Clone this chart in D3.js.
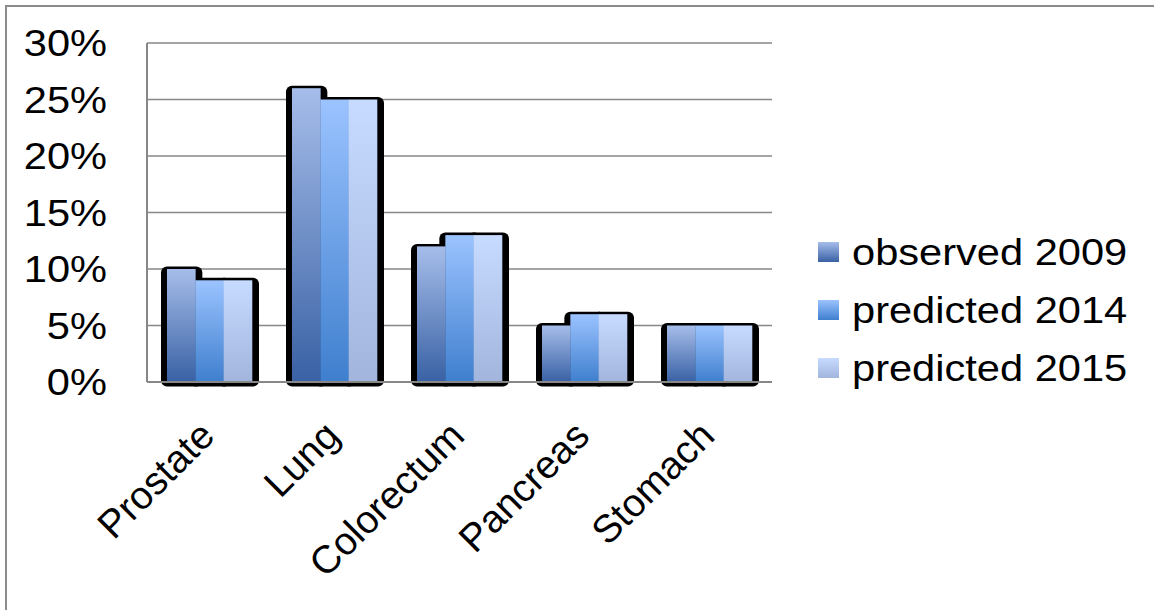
<!DOCTYPE html>
<html>
<head>
<meta charset="utf-8">
<script src="https://cdn.jsdelivr.net/npm/d3@7"></script>
<style>
  html, body { margin: 0; padding: 0; background: #fff; }
  svg { display: block; }
  text { font-family: "Liberation Sans", Arial, sans-serif; fill: #000; }
</style>
</head>
<body>
<svg id="chart" width="1154" height="610"></svg>
<script>
const categories = ["Prostate", "Lung", "Colorectum", "Pancreas", "Stomach"];
const seriesNames = ["observed 2009", "predicted 2014", "predicted 2015"];
const observed2009 = [10, 26, 12, 5, 5];
const predicted2014 = [9, 25, 13, 6, 5];
const predicted2015 = [9, 25, 13, 6, 5];
const yTicks = [0, 5, 10, 15, 20, 25, 30];
const seriesValues = [observed2009, predicted2014, predicted2015];

const gradStops = [
  ["#a6bdea", "#3961a4"],
  ["#9bc3ff", "#3f7fce"],
  ["#c7daff", "#a2b5dd"]
];

const svg = d3.select("#chart");
const plot = { left: 147, right: 772, top: 43, bottom: 382 };
const FS = 36.5, SX = 1.14;

// outer border
svg.append("rect")
  .attr("x", 6).attr("y", 6).attr("width", 1170).attr("height", 640)
  .attr("fill", "#fff").attr("stroke", "#8c8c8c").attr("stroke-width", 2);

const defs = svg.append("defs");
gradStops.forEach((g, i) => {
  const lg = defs.append("linearGradient").attr("id", "g" + i)
    .attr("x1", 0).attr("y1", 0).attr("x2", 0).attr("y2", 1);
  lg.append("stop").attr("offset", "0%").attr("stop-color", g[0]);
  lg.append("stop").attr("offset", "100%").attr("stop-color", g[1]);
});

const x0 = d3.scaleBand().domain(categories).range([plot.left, plot.right])
  .paddingInner(0.32).paddingOuter(0.16);
const x1 = d3.scaleBand().domain(d3.range(seriesNames.length)).range([0, x0.bandwidth()]);
const y = d3.scaleLinear().domain([0, 30]).range([plot.bottom, plot.top]);

// gridlines
svg.append("g").selectAll("line").data(yTicks).join("line")
  .attr("x1", plot.left).attr("x2", plot.right)
  .attr("y1", d => y(d)).attr("y2", d => y(d))
  .attr("stroke", "#878787").attr("stroke-width", 1.5);

// y labels
svg.append("g").selectAll("text").data(yTicks).join("text")
  .attr("transform", d => `translate(107,${y(d)}) scale(${SX},1)`)
  .attr("dy", "0.36em")
  .attr("text-anchor", "end").attr("font-size", FS)
  .text(d => d + "%");

// bars
const groups = svg.append("g").selectAll("g").data(categories).join("g")
  .attr("transform", d => `translate(${x0(d)},0)`);

groups.each(function(cat, ci) {
  const g = d3.select(this);
  const items = seriesValues.map((s, si) => ({ si, v: s[ci] }));
  g.selectAll("rect.shadow").data(items).join("rect").attr("class", "shadow")
    .attr("x", d => x1(d.si) - 6)
    .attr("y", d => y(d.v) - 2.5)
    .attr("width", x1.bandwidth() + 13)
    .attr("height", d => plot.bottom - y(d.v) + 7)
    .attr("rx", 6).attr("ry", 6)
    .attr("fill", "#000");
  g.selectAll("rect.bar").data(items).join("rect").attr("class", "bar")
    .attr("x", d => x1(d.si))
    .attr("y", d => y(d.v))
    .attr("width", x1.bandwidth() + 0.3)
    .attr("height", d => plot.bottom - y(d.v))
    .attr("fill", d => `url(#g${d.si})`);
});

// axes on top
svg.append("line").attr("x1", plot.left).attr("x2", plot.right)
  .attr("y1", plot.bottom).attr("y2", plot.bottom)
  .attr("stroke", "#878787").attr("stroke-width", 2);
svg.append("line").attr("x1", plot.left).attr("x2", plot.left)
  .attr("y1", plot.top).attr("y2", plot.bottom)
  .attr("stroke", "#878787").attr("stroke-width", 2);

// category labels
svg.append("g").selectAll("text").data(categories).join("text")
  .attr("text-anchor", "end").attr("font-size", 39)
  .attr("transform", d => `translate(${x0(d) + x0.bandwidth() / 2 + 7},${plot.bottom + 56}) rotate(-45)`)
  .text(d => d);

// legend
const legend = svg.append("g").selectAll("g").data(seriesNames).join("g")
  .attr("transform", (d, i) => `translate(818,${252 + i * 58})`);
legend.append("rect").attr("x", 0).attr("y", -10).attr("width", 21).attr("height", 20)
  .attr("fill", (d, i) => `url(#g${i})`);
legend.append("text")
  .attr("transform", `translate(34,0) scale(${SX},1)`)
  .attr("dy", "0.36em")
  .attr("font-size", FS).text(d => d);
</script>
</body>
</html>
